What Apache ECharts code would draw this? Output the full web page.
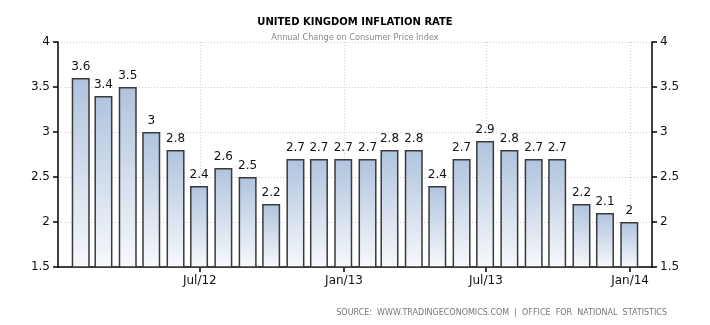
<!DOCTYPE html>
<html><head><meta charset="utf-8">
<script src="https://cdn.jsdelivr.net/npm/echarts@6/dist/echarts.min.js"></script>
<style>html,body{margin:0;padding:0;background:#fff}#c{width:710px;height:325px}</style>
</head><body><div id="c"></div>
<script>
var dates = ['2012-01-31','2012-02-29','2012-03-31','2012-04-30','2012-05-31','2012-06-30','2012-07-31','2012-08-31','2012-09-30','2012-10-31','2012-11-30','2012-12-31',
             '2013-01-31','2013-02-28','2013-03-31','2013-04-30','2013-05-31','2013-06-30','2013-07-31','2013-08-31','2013-09-30','2013-10-31','2013-11-30','2013-12-31'];
var values = [3.6,3.4,3.5,3.0,2.8,2.4,2.6,2.5,2.2,2.7,2.7,2.7,2.7,2.8,2.8,2.4,2.7,2.9,2.8,2.7,2.7,2.2,2.1,2.0];
var xTickDates = ['2012-07-01','2013-01-01','2013-07-01','2014-01-01'];
var xTickLabels = ['Jul/12','Jan/13','Jul/13','Jan/14'];

function dayNum(s){var p=s.split('-');return Math.round(Date.UTC(+p[0],+p[1]-1,+p[2])/86400000);}
var tickDays = xTickDates.map(dayNum);
var labelMap = {}; tickDays.forEach(function(t,i){labelMap[t]=xTickLabels[i];});

var chart = echarts.init(document.getElementById('c'), null, {renderer:'canvas'});
var font = 'DejaVu Sans';
function yAxis(pos, split){
  return {
    type:'value', position:pos, min:1.5, max:4, interval:0.5,
    axisLine:{show:true, lineStyle:{color:'#000', width:1.5}},
    axisTick:{show:true, length:5, lineStyle:{color:'#000', width:1.5}},
    axisLabel:{color:'#111', fontFamily:font, fontSize:12, margin:8, formatter:function(v){return String(v);}},
    splitLine:{show:split, lineStyle:{color:'#ccc', type:[1,2], width:1}}
  };
}
chart.setOption({
  animation:false,
  title:[
    {text:'UNITED KINGDOM INFLATION RATE', left:'center', top:12, textStyle:{fontFamily:font, fontWeight:'bold', fontSize:10, color:'#000'}},
    {text:'Annual Change on Consumer Price Index', left:'center', top:29, textStyle:{fontFamily:font, fontWeight:'normal', fontSize:8.2, color:'#888'}},
    {text:'SOURCE:  WWW.TRADINGECONOMICS.COM  |  OFFICE  FOR  NATIONAL  STATISTICS', right:38, top:304, textStyle:{fontFamily:font, fontWeight:'normal', fontSize:8, color:'#777'}}
  ],
  grid:{left:58, right:58, top:42, bottom:58, containLabel:false},
  xAxis:{
    type:'value', min:dayNum('2012-01-02'), max:dayNum('2014-01-29'),
    axisLine:{show:true, onZero:false, lineStyle:{color:'#000', width:1.5}},
    axisTick:{show:true, length:5, customValues:tickDays, lineStyle:{color:'#000', width:1.5}},
    axisLabel:{customValues:tickDays, color:'#111', fontFamily:font, fontSize:12, margin:8,
      formatter:function(v){return labelMap[v]||'';}},
    splitLine:{show:true, lineStyle:{color:'#ccc', type:[1,2], width:1}}
  },
  yAxis:[yAxis('left', true), yAxis('right', false)],
  series:[{
    type:'bar', yAxisIndex:0, barWidth:18,
    data: dates.map(function(d,i){return [dayNum(d), values[i]];}),
    itemStyle:{
      color:new echarts.graphic.LinearGradient(0,0,0,1,[{offset:0,color:'#b0c3de'},{offset:1,color:'#f7f9fc'}]),
      borderColor:'#3a3a3a', borderWidth:1.5
    },
    label:{show:true, position:'top', distance:5, color:'#111', fontFamily:font, fontSize:12,
      formatter:function(p){return String(p.value[1]);}}
  }]
});
</script></body></html>
